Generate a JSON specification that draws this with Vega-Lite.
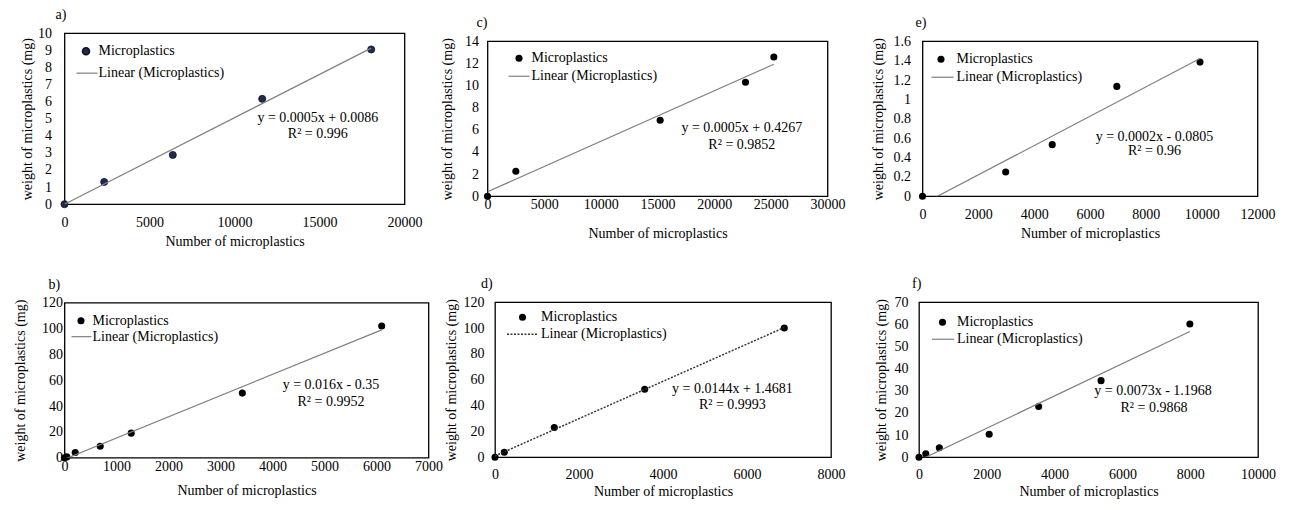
{
  "$schema": "https://vega.github.io/schema/vega-lite/v6.json",
  "background": "white",
  "padding": {"left": 12.5, "top": 7, "right": 0, "bottom": 0},
  "spacing": 27,
  "resolve": {"scale": {"color": "independent", "stroke": "independent"}},
  "config": {
    "font": "Liberation Serif",
    "view": {"stroke": "#000", "strokeWidth": 1.3},
    "axis": {"grid": false, "domain": false, "ticks": false, "tickSize": 0, "labelFont": "Liberation Serif", "labelFontSize": 14, "labelColor": "#000", "titleFont": "Liberation Serif", "titleFontSize": 14, "titleFontWeight": "normal", "titleColor": "#000", "labelFlush": false, "labelOverlap": false},
    "title": {"font": "Liberation Serif", "fontSize": 14, "fontWeight": "normal", "anchor": "start", "frame": "group", "color": "#000", "offset": 4},
    "legend": {"labelFont": "Liberation Serif", "labelFontSize": 14, "labelColor": "#000", "padding": 0, "rowPadding": 0},
    "text": {"font": "Liberation Serif", "fontSize": 14, "color": "#000"}
  },
  "vconcat": [
    {
      "hconcat": [
        {
          "width": 340, "height": 171,
          "title": {"text": "a)", "dx": -9},
          "data": {"values": [{"n": 0, "w": 0}, {"n": 2335, "w": 1.3}, {"n": 6371, "w": 2.88}, {"n": 11629, "w": 6.16}, {"n": 18041, "w": 9.05}]},
          "encoding": {
            "x": {"field": "n", "type": "quantitative", "title": "Number of microplastics", "scale": {"domain": [0, 20000], "nice": false}, "axis": {"values": [0, 5000, 10000, 15000, 20000], "format": "d", "labelPadding": 11, "titlePadding": 5}},
            "y": {"field": "w", "type": "quantitative", "title": "weight of microplastics (mg)", "scale": {"domain": [0, 10], "nice": false}, "axis": {"values": [0, 1, 2, 3, 4, 5, 6, 7, 8, 9, 10], "format": "d", "labelPadding": 13, "titlePadding": 3}}
          },
          "layer": [
            {"mark": {"type": "point", "filled": true, "size": 50, "opacity": 1, "stroke": "#0d1226", "strokeWidth": 0.8},
             "encoding": {"color": {"datum": "Microplastics", "scale": {"range": ["#1f2a4d"]}, "legend": {"title": null, "orient": "none", "legendX": 14.5, "legendY": 11, "labelOffset": 5.5, "symbolType": "circle", "symbolSize": 50}}}},
            {"transform": [{"regression": "w", "on": "n"}],
             "mark": {"type": "line", "clip": true, "strokeWidth": 1.2},
             "encoding": {"stroke": {"datum": "Linear (Microplastics)", "scale": {"range": ["#808080"]}, "legend": {"title": null, "orient": "none", "legendX": 11, "legendY": 28.5, "labelOffset": 0, "symbolType": "stroke", "symbolSize": 441, "symbolStrokeWidth": 1.2}}}},
            {"data": {"values": [{"n": 14900, "w": 5.05, "t": "y = 0.0005x + 0.0086"}, {"n": 14900, "w": 4.08, "t": "R² = 0.996"}]},
             "mark": {"type": "text", "align": "center", "baseline": "middle"},
             "encoding": {"text": {"field": "t"}}}
          ]
        },
        {
          "hconcat": [
            {
              "width": 340, "height": 155,
              "title": {"text": "c)", "dx": -11},
              "data": {"values": [{"n": 0, "w": 0}, {"n": 2500, "w": 2.26}, {"n": 15235, "w": 6.86}, {"n": 22765, "w": 10.3}, {"n": 25265, "w": 12.58}]},
              "encoding": {
                "x": {"field": "n", "type": "quantitative", "title": "Number of microplastics", "scale": {"domain": [0, 30000], "nice": false}, "axis": {"values": [0, 5000, 10000, 15000, 20000, 25000, 30000], "format": "d", "labelPadding": 1, "titlePadding": 15}},
                "y": {"field": "w", "type": "quantitative", "title": "weight of microplastics (mg)", "scale": {"domain": [0, 14], "nice": false}, "axis": {"values": [0, 2, 4, 6, 8, 10, 12, 14], "format": "d", "labelPadding": 9, "titlePadding": 10}}
              },
              "layer": [
                {"mark": {"type": "point", "filled": true, "size": 50, "opacity": 1},
                 "encoding": {"color": {"datum": "Microplastics", "scale": {"range": ["#000000"]}, "legend": {"title": null, "orient": "none", "legendX": 24.5, "legendY": 10, "labelOffset": 5.5, "symbolType": "circle", "symbolSize": 50}}}},
                {"transform": [{"regression": "w", "on": "n"}],
                 "mark": {"type": "line", "clip": true, "strokeWidth": 1.2},
                 "encoding": {"stroke": {"datum": "Linear (Microplastics)", "scale": {"range": ["#808080"]}, "legend": {"title": null, "orient": "none", "legendX": 20, "legendY": 23.5, "labelOffset": 1, "symbolType": "stroke", "symbolSize": 441, "symbolStrokeWidth": 1.2}}}},
                {"data": {"values": [{"n": 22440, "w": 6.17, "t": "y = 0.0005x + 0.4267"}, {"n": 22440, "w": 4.67, "t": "R² = 0.9852"}]},
                 "mark": {"type": "text", "align": "center", "baseline": "middle"},
                 "encoding": {"text": {"field": "t"}}}
              ]
            },
            {
              "width": 335, "height": 155,
              "title": {"text": "e)", "dx": -7},
              "data": {"values": [{"n": 0, "w": 0}, {"n": 2979, "w": 0.251}, {"n": 4647, "w": 0.533}, {"n": 6961, "w": 1.134}, {"n": 9940, "w": 1.385}]},
              "encoding": {
                "x": {"field": "n", "type": "quantitative", "title": "Number of microplastics", "scale": {"domain": [0, 12000], "nice": false}, "axis": {"values": [0, 2000, 4000, 6000, 8000, 10000, 12000], "format": "d", "labelPadding": 11, "titlePadding": 5}},
                "y": {"field": "w", "type": "quantitative", "title": "weight of microplastics (mg)", "scale": {"domain": [0, 1.6], "nice": false}, "axis": {"values": [0, 0.2, 0.4, 0.6, 0.8, 1, 1.2, 1.4, 1.6], "format": "~g", "labelPadding": 12, "titlePadding": 8}}
              },
              "layer": [
                {"mark": {"type": "point", "filled": true, "size": 50, "opacity": 1},
                 "encoding": {"color": {"datum": "Microplastics", "scale": {"range": ["#000000"]}, "legend": {"title": null, "orient": "none", "legendX": 11.5, "legendY": 11, "labelOffset": 8.5, "symbolType": "circle", "symbolSize": 50}}}},
                {"transform": [{"regression": "w", "on": "n"}],
                 "mark": {"type": "line", "clip": true, "strokeWidth": 1.2},
                 "encoding": {"stroke": {"datum": "Linear (Microplastics)", "scale": {"range": ["#808080"]}, "legend": {"title": null, "orient": "none", "legendX": 8, "legendY": 24, "labelOffset": 2, "symbolType": "stroke", "symbolSize": 484, "symbolStrokeWidth": 1.2}}}},
                {"data": {"values": [{"n": 8310, "w": 0.609, "t": "y = 0.0002x - 0.0805"}, {"n": 8310, "w": 0.4645, "t": "R² = 0.96"}]},
                 "mark": {"type": "text", "align": "center", "baseline": "middle"},
                 "encoding": {"text": {"field": "t"}}}
              ]
            }
          ],
          "spacing": 23, "center": true,
          "resolve": {"scale": {"color": "independent", "stroke": "independent"}}
        }
      ],
      "spacing": 16, "center": true,
      "resolve": {"scale": {"color": "independent", "stroke": "independent"}}
    },
    {
      "hconcat": [
        {
          "width": 364, "height": 155,
          "title": {"text": "b)", "dx": -16},
          "data": {"values": [{"n": 0, "w": 0}, {"n": 45, "w": 0.6}, {"n": 206, "w": 4.0}, {"n": 687, "w": 8.8}, {"n": 1283, "w": 19}, {"n": 3420, "w": 50}, {"n": 6100, "w": 102}]},
          "encoding": {
            "x": {"field": "n", "type": "quantitative", "title": "Number of microplastics", "scale": {"domain": [0, 7000], "nice": false}, "axis": {"values": [0, 1000, 2000, 3000, 4000, 5000, 6000, 7000], "format": "d", "labelPadding": 2, "titlePadding": 10}},
            "y": {"field": "w", "type": "quantitative", "title": "weight of microplastics (mg)", "scale": {"domain": [0, 120], "nice": false}, "axis": {"values": [0, 20, 40, 60, 80, 100, 120], "format": "d", "labelPadding": 2, "titlePadding": 14}}
          },
          "layer": [
            {"mark": {"type": "point", "filled": true, "size": 50, "opacity": 1},
             "encoding": {"color": {"datum": "Microplastics", "scale": {"range": ["#000000"]}, "legend": {"title": null, "orient": "none", "legendX": 9.5, "legendY": 11, "labelOffset": 4.5, "symbolType": "circle", "symbolSize": 50}}}},
            {"transform": [{"regression": "w", "on": "n"}],
             "mark": {"type": "line", "clip": true, "strokeWidth": 1.2},
             "encoding": {"stroke": {"datum": "Linear (Microplastics)", "scale": {"range": ["#808080"]}, "legend": {"title": null, "orient": "none", "legendX": 6, "legendY": 23, "labelOffset": 0, "symbolType": "stroke", "symbolSize": 400, "symbolStrokeWidth": 1.2}}}},
            {"data": {"values": [{"n": 5125, "w": 55.9, "t": "y = 0.016x - 0.35"}, {"n": 5125, "w": 42.9, "t": "R² = 0.9952"}]},
             "mark": {"type": "text", "align": "center", "baseline": "middle"},
             "encoding": {"text": {"field": "t"}}}
          ]
        },
        {
          "hconcat": [
            {
              "width": 336, "height": 155,
              "title": {"text": "d)", "dx": -14},
              "data": {"values": [{"n": 0, "w": 0}, {"n": 221, "w": 3.9}, {"n": 1412, "w": 23}, {"n": 3564, "w": 52.6}, {"n": 6888, "w": 100.1}]},
              "encoding": {
                "x": {"field": "n", "type": "quantitative", "title": "Number of microplastics", "scale": {"domain": [0, 8000], "nice": false}, "axis": {"values": [0, 2000, 4000, 6000, 8000], "format": "d", "labelPadding": 10, "titlePadding": 3}},
                "y": {"field": "w", "type": "quantitative", "title": "weight of microplastics (mg)", "scale": {"domain": [0, 120], "nice": false}, "axis": {"values": [0, 20, 40, 60, 80, 100, 120], "format": "d", "labelPadding": 11, "titlePadding": 5}}
              },
              "layer": [
                {"mark": {"type": "point", "filled": true, "size": 50, "opacity": 1},
                 "encoding": {"color": {"datum": "Microplastics", "scale": {"range": ["#000000"]}, "legend": {"title": null, "orient": "none", "legendX": 20.5, "legendY": 8, "labelOffset": 11.5, "symbolType": "circle", "symbolSize": 50}}}},
                {"transform": [{"regression": "w", "on": "n"}],
                 "mark": {"type": "line", "clip": true, "strokeWidth": 1.5, "strokeDash": [2, 1.5]},
                 "encoding": {"stroke": {"datum": "Linear (Microplastics)", "scale": {"range": ["#333333"]}, "legend": {"title": null, "orient": "none", "legendX": 11, "legendY": 16, "labelOffset": 3, "symbolType": "stroke", "symbolSize": 900, "symbolStrokeWidth": 1.5, "symbolDash": [2, 1.5]}}}},
                {"data": {"values": [{"n": 5652, "w": 52.6, "t": "y = 0.0144x + 1.4681"}, {"n": 5652, "w": 40.5, "t": "R² = 0.9993"}]},
                 "mark": {"type": "text", "align": "center", "baseline": "middle"},
                 "encoding": {"text": {"field": "t"}}}
              ]
            },
            {
              "width": 339, "height": 155,
              "title": {"text": "f)", "dx": -7},
              "data": {"values": [{"n": 0, "w": 0}, {"n": 200, "w": 1.6}, {"n": 600, "w": 4.3}, {"n": 2070, "w": 10.4}, {"n": 3530, "w": 22.9}, {"n": 5370, "w": 34.6}, {"n": 7990, "w": 60.2}]},
              "encoding": {
                "x": {"field": "n", "type": "quantitative", "title": "Number of microplastics", "scale": {"domain": [0, 10000], "nice": false}, "axis": {"values": [0, 2000, 4000, 6000, 8000, 10000], "format": "d", "labelPadding": 10, "titlePadding": 3}},
                "y": {"field": "w", "type": "quantitative", "title": "weight of microplastics (mg)", "scale": {"domain": [0, 70], "nice": false}, "axis": {"values": [0, 10, 20, 30, 40, 50, 60, 70], "format": "d", "labelPadding": 11, "titlePadding": 6}}
              },
              "layer": [
                {"mark": {"type": "point", "filled": true, "size": 50, "opacity": 1},
                 "encoding": {"color": {"datum": "Microplastics", "scale": {"range": ["#000000"]}, "legend": {"title": null, "orient": "none", "legendX": 16.5, "legendY": 13, "labelOffset": 7.5, "symbolType": "circle", "symbolSize": 50}}}},
                {"transform": [{"regression": "w", "on": "n"}],
                 "mark": {"type": "line", "clip": true, "strokeWidth": 1.2},
                 "encoding": {"stroke": {"datum": "Linear (Microplastics)", "scale": {"range": ["#808080"]}, "legend": {"title": null, "orient": "none", "legendX": 12, "legendY": 25, "labelOffset": 2, "symbolType": "stroke", "symbolSize": 484, "symbolStrokeWidth": 1.2}}}},
                {"data": {"values": [{"n": 6903, "w": 30.1, "t": "y = 0.0073x - 1.1968"}, {"n": 6930, "w": 22.4, "t": "R² = 0.9868"}]},
                 "mark": {"type": "text", "align": "center", "baseline": "middle"},
                 "encoding": {"text": {"field": "t"}}}
              ]
            }
          ],
          "spacing": 27, "center": true,
          "resolve": {"scale": {"color": "independent", "stroke": "independent"}}
        }
      ],
      "spacing": -0.5, "center": true,
      "resolve": {"scale": {"color": "independent", "stroke": "independent"}}
    }
  ]
}
